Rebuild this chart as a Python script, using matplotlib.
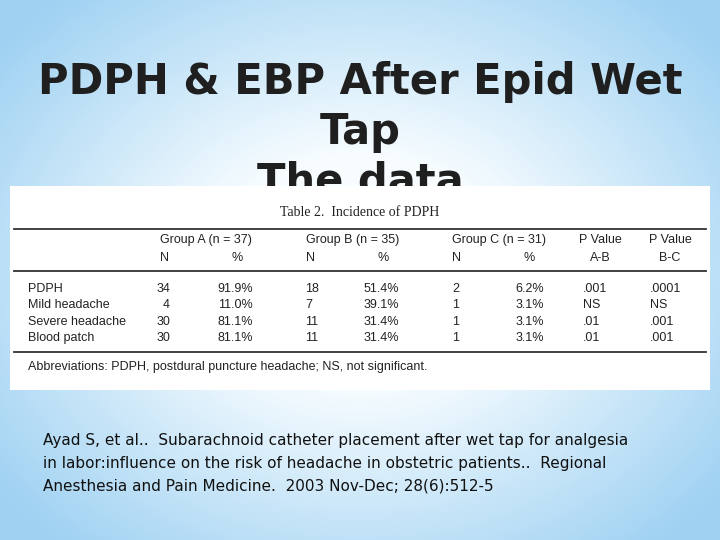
import numpy as np
import matplotlib
matplotlib.use("Agg")
import matplotlib.pyplot as plt

title_lines = ["PDPH & EBP After Epid Wet", "Tap", "The data"]
table_title = "Table 2.  Incidence of PDPH"
rows = ["PDPH", "Mild headache", "Severe headache", "Blood patch"]
groupA_N = ["34", "4", "30", "30"]
groupA_pct = ["91.9%", "11.0%", "81.1%", "81.1%"]
groupB_N = ["18", "7", "11", "11"]
groupB_pct = ["51.4%", "39.1%", "31.4%", "31.4%"]
groupC_N = ["2", "1", "1", "1"]
groupC_pct = ["6.2%", "3.1%", "3.1%", "3.1%"]
p_AB = [".001", "NS", ".01", ".01"]
p_BC = [".0001", "NS", ".001", ".001"]
groups = ["Group A (n = 37)", "Group B (n = 35)", "Group C (n = 31)"]
footnote = "Abbreviations: PDPH, postdural puncture headache; NS, not significant."
citation = ["Ayad S, et al..  Subarachnoid catheter placement after wet tap for analgesia",
            "in labor:influence on the risk of headache in obstetric patients..  Regional",
            "Anesthesia and Pain Medicine.  2003 Nov-Dec; 28(6):512-5"]

fig = plt.figure(figsize=(7.2, 5.4), dpi=100)
ax = fig.add_axes([0, 0, 1, 1])
ax.set_xlim(0, 720); ax.set_ylim(540, 0); ax.axis("off")

# background gradient
yy, xx = np.mgrid[0:540, 0:720]
d = np.sqrt(((xx - 360) / 420) ** 2 + ((yy - 270) / 330) ** 2)
t = np.clip((d - 0.35) / 0.75, 0, 1)[..., None]
c0 = np.array([0.97, 0.99, 1.0]); c1 = np.array([0.62, 0.82, 0.95])
ax.imshow(c0 * (1 - t) + c1 * t, extent=(0, 720, 540, 0), zorder=0)

for i, s in enumerate(title_lines):
    ax.text(360, 82 + 50 * i, s, ha="center", va="center", fontsize=30,
            fontweight="heavy", family="DejaVu Sans", color="#1f1f1f", zorder=1)

ax.add_patch(plt.Rectangle((10, 186), 700, 204, facecolor="white", edgecolor="none", zorder=2))
ax.text(360, 212, table_title, ha="center", va="center", fontsize=10,
        family="Liberation Serif", color="#222", zorder=3)
for y in (229, 271, 352):
    ax.plot([14, 706], [y, y], color="#333", lw=1.3, zorder=3)

kw = dict(fontsize=9, family="Liberation Sans", color="#222", va="center", zorder=3)
for x, g in zip([160, 306, 452], groups):
    ax.text(x, 240, g, ha="left", **kw)
    ax.text(x, 258, "N", ha="left", **kw)
    ax.text(x + 77, 258, "%", ha="center", **kw)
ax.text(600, 240, "P Value", ha="center", **kw)
ax.text(670, 240, "P Value", ha="center", **kw)
ax.text(600, 258, "A-B", ha="center", **kw)
ax.text(670, 258, "B-C", ha="center", **kw)

for i, r in enumerate(rows):
    y = 289 + 16.3 * i
    ax.text(28, y, r, ha="left", **kw)
    ax.text(170, y, groupA_N[i], ha="right", **kw)
    ax.text(253, y, groupA_pct[i], ha="right", **kw)
    ax.text(305, y, groupB_N[i], ha="left", **kw)
    ax.text(399, y, groupB_pct[i], ha="right", **kw)
    ax.text(452, y, groupC_N[i], ha="left", **kw)
    ax.text(544, y, groupC_pct[i], ha="right", **kw)
    ax.text(583, y, p_AB[i], ha="left", **kw)
    ax.text(650, y, p_BC[i], ha="left", **kw)
ax.text(28, 367, footnote, ha="left", **kw)

for i, s in enumerate(citation):
    ax.text(43, 441 + 22.5 * i, s, ha="left", va="center", fontsize=11,
            family="DejaVu Sans", color="#111", zorder=3)

fig.savefig("out.png", dpi=100)
